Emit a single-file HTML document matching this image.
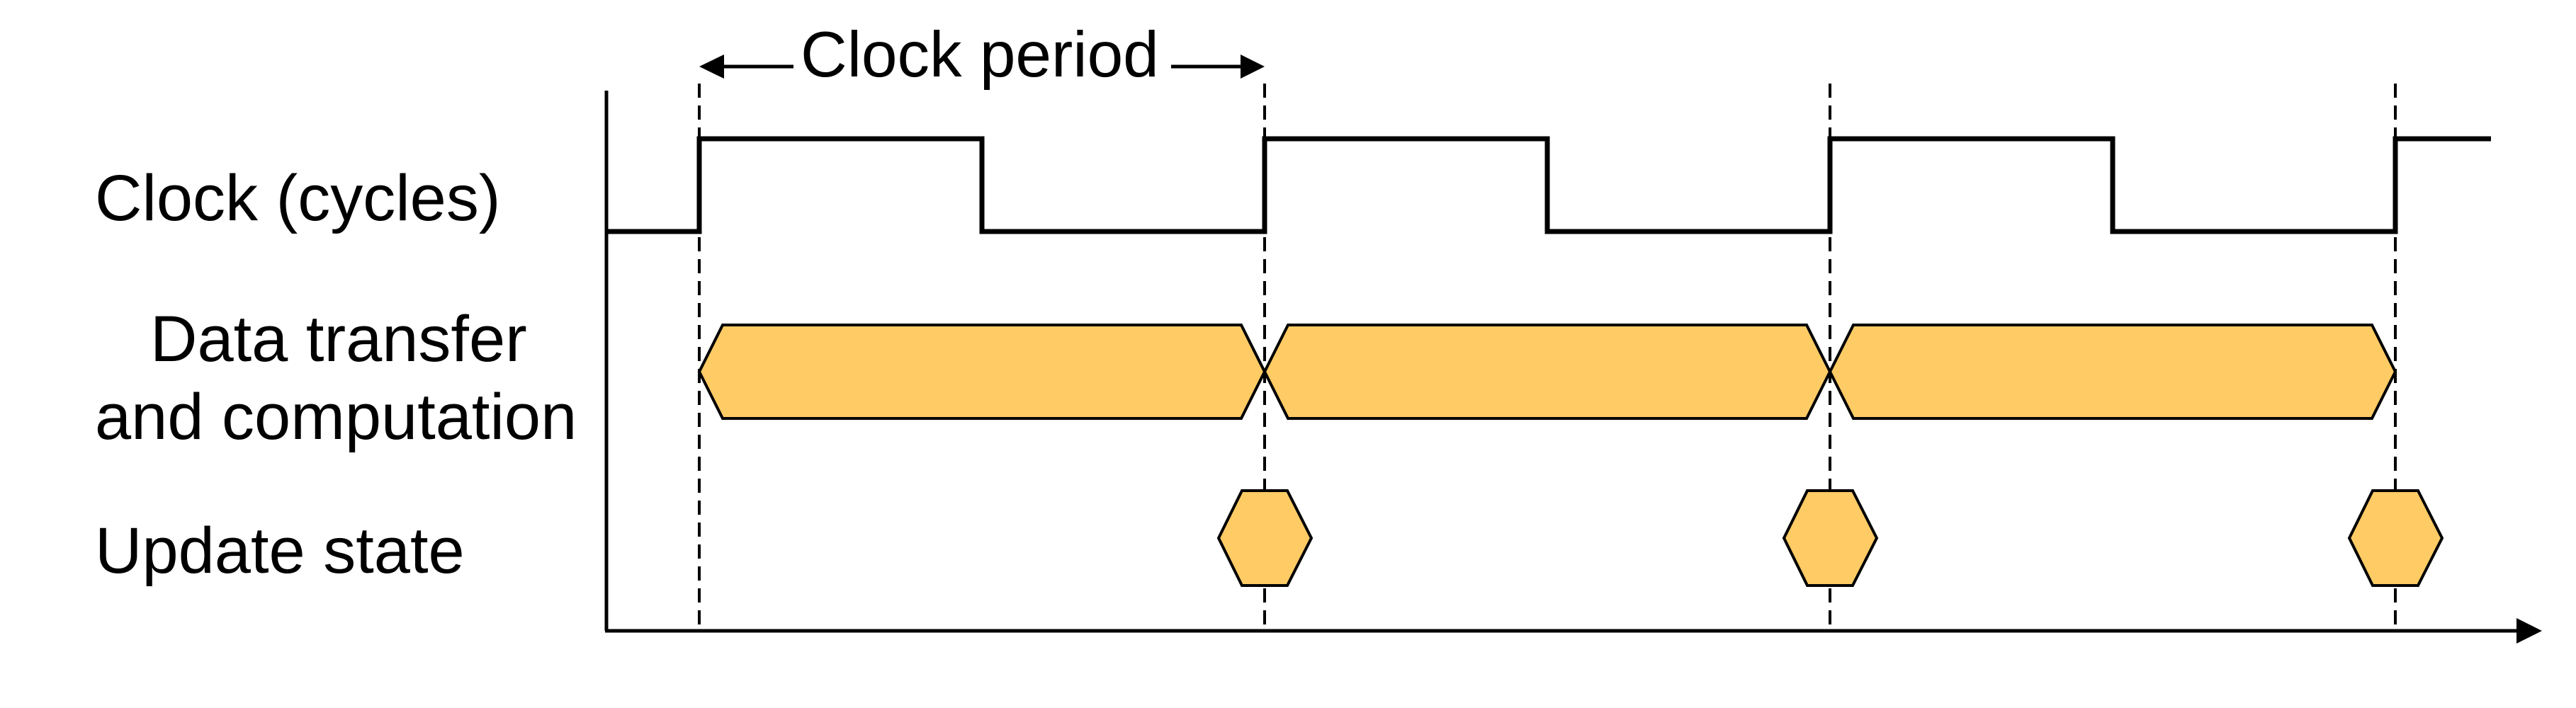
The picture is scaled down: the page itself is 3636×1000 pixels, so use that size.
<!DOCTYPE html>
<html><head><meta charset="utf-8"><style>
html,body{margin:0;padding:0;background:#fff;}
svg{display:block;}
text{font-family:"Liberation Sans",Arial,sans-serif;fill:#000;}
</style></head><body>
<svg width="3636" height="1000" viewBox="0 0 3636 1000" xmlns="http://www.w3.org/2000/svg">
<!-- dashed guides -->
<g stroke="#000" stroke-width="4" stroke-dasharray="20,11">
<line x1="987" y1="118" x2="987" y2="888"/>
<line x1="1785" y1="118" x2="1785" y2="888"/>
<line x1="2583" y1="118" x2="2583" y2="888"/>
<line x1="3381" y1="118" x2="3381" y2="888"/>
</g>
<!-- axes -->
<line x1="856" y1="128" x2="856" y2="891" stroke="#000" stroke-width="5"/>
<line x1="854" y1="891" x2="3560" y2="891" stroke="#000" stroke-width="5"/>
<polygon points="3588,891 3552,873 3552,909" fill="#000"/>
<!-- clock -->
<polyline fill="none" stroke="#000" stroke-width="7" stroke-linejoin="miter"
 points="856,327 987,327 987,196 1386,196 1386,327 1785,327 1785,196 2184,196 2184,327 2583,327 2583,196 2982,196 2982,327 3381,327 3381,196 3516,196"/>
<!-- data hexes -->
<g fill="#FECB65" stroke="#000" stroke-width="4" stroke-linejoin="miter">
<polygon points="987,525 1020,459 1752,459 1785,525 1752,591 1020,591"/>
<polygon points="1785,525 1818,459 2550,459 2583,525 2550,591 1818,591"/>
<polygon points="2583,525 2616,459 3348,459 3381,525 3348,591 2616,591"/>
<!-- update hexes -->
<polygon points="1720,760 1753,693 1817,693 1851,760 1817,827 1753,827"/>
<polygon points="2518,760 2551,693 2615,693 2649,760 2615,827 2551,827"/>
<polygon points="3316,760 3349,693 3413,693 3447,760 3413,827 3349,827"/>
</g>
<!-- clock period arrows -->
<line x1="1015" y1="94" x2="1120" y2="94" stroke="#000" stroke-width="5"/>
<polygon points="987,94 1022,77 1022,111" fill="#000"/>
<line x1="1653" y1="94" x2="1758" y2="94" stroke="#000" stroke-width="5"/>
<polygon points="1785,94 1751,77 1751,111" fill="#000"/>
<text x="1130" y="108" font-size="91">Clock period</text>
<!-- labels -->
<text x="134" y="311" font-size="92">Clock (cycles)</text>
<text x="212" y="510" font-size="92">Data transfer</text>
<text x="134" y="620" font-size="92">and computation</text>
<text x="134" y="809" font-size="92">Update state</text>
</svg>
</body></html>
